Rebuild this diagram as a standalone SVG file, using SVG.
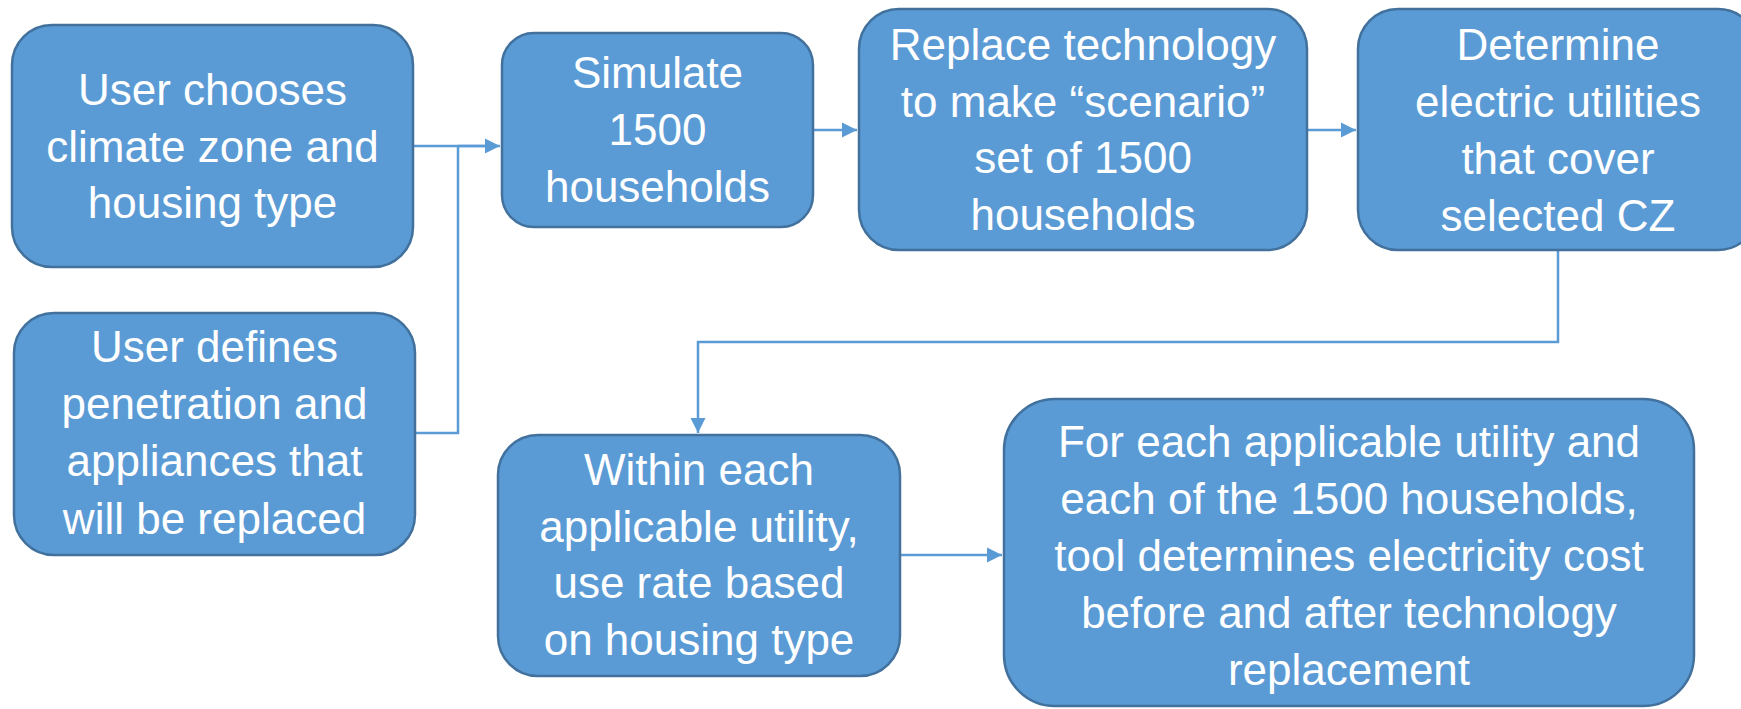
<svg xmlns="http://www.w3.org/2000/svg" width="1741" height="709" viewBox="0 0 1741 709">
<style>
.box{fill:#5B9BD5;stroke:#41719C;stroke-width:2.5}
.t{font-family:"Liberation Sans",Arial,sans-serif;font-size:44px;fill:#fff;text-anchor:middle}
.c{fill:none;stroke:#5B9BD5;stroke-width:2.5}
</style>
<defs>
<marker id="ah" markerUnits="userSpaceOnUse" markerWidth="16" markerHeight="16" refX="15" refY="8" orient="auto">
<path d="M0,0.5 L15,8 L0,15.5 Z" fill="#5B9BD5"/>
</marker>
</defs>
<g id="connectors">
<path class="c" d="M413,146 H486"/>
<path class="c" d="M415,433 H458 V146" />
<path class="c" d="M458,146 H500" marker-end="url(#ah)"/>
<path class="c" d="M813,130 H857" marker-end="url(#ah)"/>
<path class="c" d="M1307,130 H1356" marker-end="url(#ah)"/>
<path class="c" d="M1558,250 V342 H698 V433" marker-end="url(#ah)"/>
<path class="c" d="M900,555 H1002" marker-end="url(#ah)"/>
</g>
<g id="n1">
<rect class="box" x="12" y="25" width="401" height="242" rx="40"/>
<text class="t"><tspan x="212.5" y="105">User chooses</tspan><tspan x="212.5" y="162">climate zone and</tspan><tspan x="212.5" y="218">housing type</tspan></text>
</g>
<g id="n2">
<rect class="box" x="14" y="313" width="401" height="242" rx="40"/>
<text class="t"><tspan x="214.5" y="362">User defines</tspan><tspan x="214.5" y="419">penetration and</tspan><tspan x="214.5" y="476">appliances that</tspan><tspan x="214.5" y="534">will be replaced</tspan></text>
</g>
<g id="n3">
<rect class="box" x="502" y="33" width="311" height="194" rx="32"/>
<text class="t"><tspan x="657.5" y="88">Simulate</tspan><tspan x="657.5" y="145">1500</tspan><tspan x="657.5" y="202">households</tspan></text>
</g>
<g id="n4">
<rect class="box" x="859" y="9" width="448" height="241" rx="40"/>
<text class="t"><tspan x="1083" y="60">Replace technology</tspan><tspan x="1083" y="117">to make “scenario”</tspan><tspan x="1083" y="173">set of 1500</tspan><tspan x="1083" y="230">households</tspan></text>
</g>
<g id="n5">
<rect class="box" x="1358" y="9" width="400" height="241" rx="40"/>
<text class="t"><tspan x="1558" y="60">Determine</tspan><tspan x="1558" y="117">electric utilities</tspan><tspan x="1558" y="174">that cover</tspan><tspan x="1558" y="231">selected CZ</tspan></text>
</g>
<g id="n6">
<rect class="box" x="498" y="435" width="402" height="241" rx="40"/>
<text class="t"><tspan x="699" y="485">Within each</tspan><tspan x="699" y="542">applicable utility,</tspan><tspan x="699" y="598">use rate based</tspan><tspan x="699" y="655">on housing type</tspan></text>
</g>
<g id="n7">
<rect class="box" x="1004" y="399" width="690" height="307" rx="51"/>
<text class="t"><tspan x="1349" y="457">For each applicable utility and</tspan><tspan x="1349" y="514">each of the 1500 households,</tspan><tspan x="1349" y="571">tool determines electricity cost</tspan><tspan x="1349" y="628">before and after technology</tspan><tspan x="1349" y="685">replacement</tspan></text>
</g>
</svg>
